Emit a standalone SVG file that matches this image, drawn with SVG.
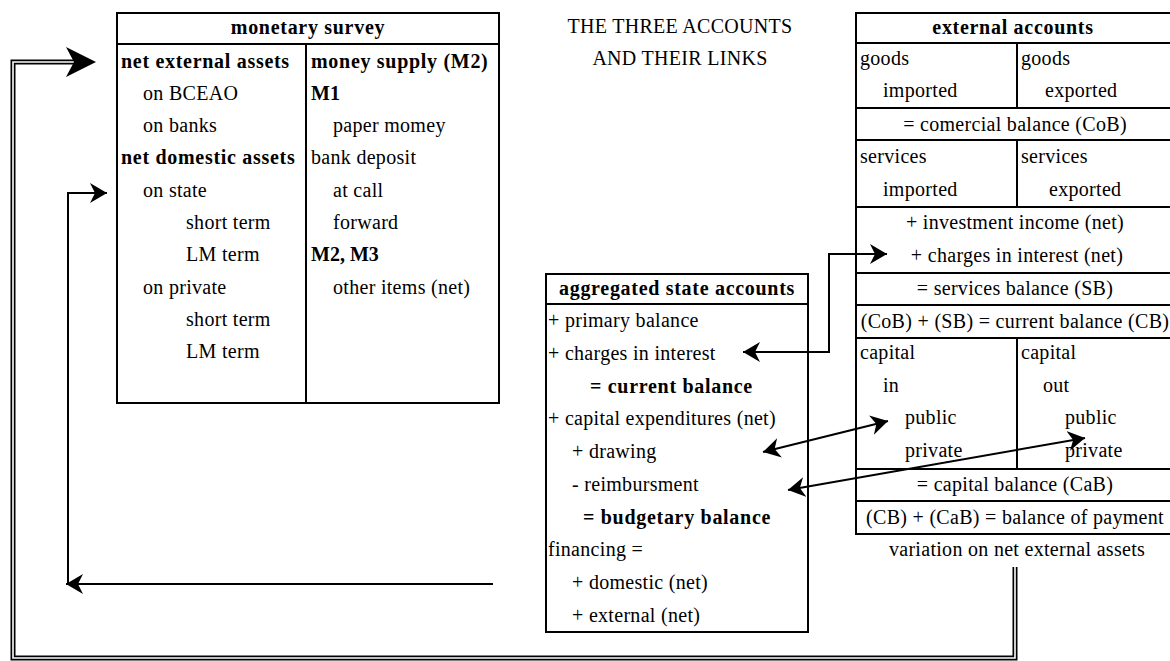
<svg xmlns="http://www.w3.org/2000/svg" width="1170" height="661" viewBox="0 0 1170 661">
<style>
text { font-family: "Liberation Serif", "Times New Roman", serif; font-size: 20px; fill: #000; letter-spacing: 0.3px; }
.b { font-weight: bold; letter-spacing: 0.7px; }
.b0 { font-weight: bold; letter-spacing: 0; }
.m { text-anchor: middle; }
.box { fill: #fff; stroke: #000; stroke-width: 2; }
.ln { stroke: #000; stroke-width: 2; fill: none; }
.conn { stroke: #000; stroke-width: 2; fill: none; }
.dblo { stroke: #000; stroke-width: 5; fill: none; stroke-linejoin: miter; }
.dbli { stroke: #fff; stroke-width: 1.6; fill: none; stroke-linejoin: miter; }
</style>
<defs>
<marker id="ah" markerUnits="userSpaceOnUse" markerWidth="18" markerHeight="20" refX="17" refY="10" orient="auto-start-reverse">
<path d="M17,10 L0,0 L5,10 L0,20 Z" fill="#000"/>
</marker>
</defs>
<rect width="1170" height="661" fill="#fff"/>

<g id="title">
<text class="m" x="680" y="33">THE THREE ACCOUNTS</text>
<text class="m" x="680" y="65">AND THEIR LINKS</text>
</g>

<g id="monetary-survey">
<rect class="box" x="117" y="13" width="382" height="390"/>
<line class="ln" x1="117" y1="44" x2="499" y2="44"/>
<line class="ln" x1="306" y1="44" x2="306" y2="403"/>
<text class="b m" x="308" y="34">monetary survey</text>
<text class="b" x="121" y="68">net external assets</text>
<text x="143" y="100">on BCEAO</text>
<text x="143" y="132">on banks</text>
<text class="b" x="121" y="164">net domestic assets</text>
<text x="143" y="197">on state</text>
<text x="186" y="229">short term</text>
<text x="186" y="261">LM term</text>
<text x="143" y="294">on private</text>
<text x="186" y="326">short term</text>
<text x="186" y="358">LM term</text>
<text class="b" x="311" y="68">money supply (M2)</text>
<text class="b0" x="311" y="100">M1</text>
<text x="333" y="132">paper momey</text>
<text x="311" y="164">bank deposit</text>
<text x="333" y="197">at call</text>
<text x="333" y="229">forward</text>
<text class="b0" x="311" y="261">M2, M3</text>
<text x="333" y="294">other items (net)</text>
</g>

<g id="state-accounts">
<rect class="box" x="546" y="274" width="262" height="358"/>
<line class="ln" x1="546" y1="304" x2="808" y2="304"/>
<text class="b m" x="677" y="295">aggregated state accounts</text>
<text x="548" y="327">+ primary balance</text>
<text x="548" y="360">+ charges in interest</text>
<text class="b" x="590" y="393">= current balance</text>
<text x="548" y="425">+ capital expenditures (net)</text>
<text x="572" y="458">+ drawing</text>
<text x="572" y="491">- reimbursment</text>
<text class="b" x="583" y="524">= budgetary balance</text>
<text x="548" y="556">financing =</text>
<text x="572" y="589">+ domestic (net)</text>
<text x="572" y="622">+ external (net)</text>
</g>

<g id="external-accounts">
<rect class="box" x="856" y="13" width="320" height="521"/>
<line class="ln" x1="856" y1="43" x2="1176" y2="43"/>
<line class="ln" x1="856" y1="108" x2="1176" y2="108"/>
<line class="ln" x1="856" y1="140" x2="1176" y2="140"/>
<line class="ln" x1="856" y1="207" x2="1176" y2="207"/>
<line class="ln" x1="856" y1="273" x2="1176" y2="273"/>
<line class="ln" x1="856" y1="305" x2="1176" y2="305"/>
<line class="ln" x1="856" y1="338" x2="1176" y2="338"/>
<line class="ln" x1="856" y1="469" x2="1176" y2="469"/>
<line class="ln" x1="856" y1="501" x2="1176" y2="501"/>
<line class="ln" x1="1017" y1="43" x2="1017" y2="108"/>
<line class="ln" x1="1017" y1="140" x2="1017" y2="207"/>
<line class="ln" x1="1017" y1="338" x2="1017" y2="469"/>
<text class="b m" x="1013" y="34">external accounts</text>
<text x="860" y="65">goods</text>
<text x="1021" y="65">goods</text>
<text x="883" y="97">imported</text>
<text x="1045" y="97">exported</text>
<text class="m" x="1015" y="131">= comercial balance (CoB)</text>
<text x="860" y="163">services</text>
<text x="1021" y="163">services</text>
<text x="883" y="196">imported</text>
<text x="1049" y="196">exported</text>
<text class="m" x="1015" y="229">+ investment income (net)</text>
<text class="m" x="1017" y="262">+ charges in interest (net)</text>
<text class="m" x="1015" y="295">= services balance (SB)</text>
<text class="m" x="1015" y="328">(CoB) + (SB) = current balance (CB)</text>
<text x="860" y="359">capital</text>
<text x="1021" y="359">capital</text>
<text x="883" y="392">in</text>
<text x="1043" y="392">out</text>
<text x="905" y="424">public</text>
<text x="1065" y="424">public</text>
<text x="905" y="457">private</text>
<text x="1065" y="457">private</text>
<text class="m" x="1015" y="491">= capital balance (CaB)</text>
<text class="m" x="1015" y="524">(CB) + (CaB) = balance of payment</text>
<text class="m" x="1017" y="556">variation on net external assets</text>
</g>

<g id="connectors">
<path class="dblo" d="M1015,567 V658 H13 V62 H78"/>
<path class="dbli" d="M1015,567 V658 H13 V62 H78"/>
<polygon points="96,62 66,47 74,62 66,77" fill="#000"/>
<path class="conn" d="M493,584 H66" marker-end="url(#ah)"/>
<path class="conn" d="M68,584 V193 H107" marker-end="url(#ah)"/>
<path class="conn" d="M743,352 H829 V254 H887" marker-start="url(#ah)" marker-end="url(#ah)"/>
<path class="conn" d="M763,452 L888,421" marker-start="url(#ah)" marker-end="url(#ah)"/>
<path class="conn" d="M788,490 L1085,438" marker-start="url(#ah)" marker-end="url(#ah)"/>
</g>
</svg>
